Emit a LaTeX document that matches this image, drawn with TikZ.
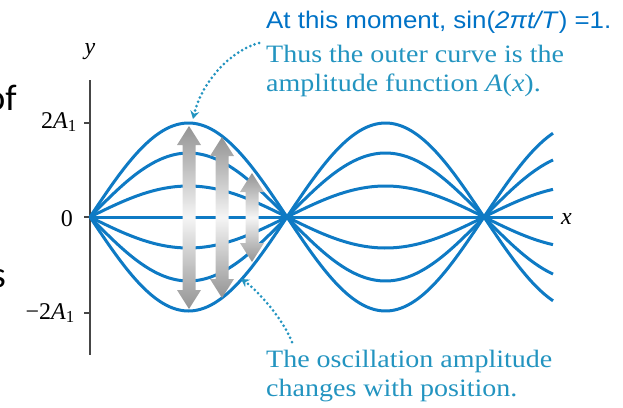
\documentclass[tikz,border=0pt]{standalone}
\usepackage{fontspec}
\setmainfont{Liberation Serif}
\setsansfont{Liberation Sans}
\newfontfamily\notefont[FakeStretch=1.12]{Liberation Serif}
\newfontfamily\headfont[FakeStretch=1.08]{Liberation Sans}
\newfontfamily\slidefont{Carlito}
\usetikzlibrary{arrows.meta, positioning}

\definecolor{waveblue}{RGB}{14,122,196}
\definecolor{noteteal}{RGB}{35,148,192}
\definecolor{headblue}{RGB}{0,114,198}
\definecolor{axisgray}{RGB}{70,70,70}

\begin{document}
\begin{tikzpicture}[x=1pt, y=-1pt,
    wave/.style={draw=waveblue, line width=3pt},
    axis/.style={draw=axisgray, line width=1.8pt},
    tick/.style={draw=axisgray, line width=1.3pt},
    lbl/.style={inner sep=0pt, font=\fontsize{24}{28}\selectfont},
    note/.style={inner sep=0pt, align=left, text=noteteal, font=\notefont\fontsize{25}{29}\selectfont},
    pointer/.style={-{Stealth[length=8pt, width=9pt]}, draw=noteteal, line width=3pt, line cap=round, dash pattern=on 0pt off 4.6pt},
    ampl/.style={top color=black!42, bottom color=black!42, middle color=black!4}
  ]
  \path[use as bounding box, clip] (0,0) rectangle (623,407);

  % axes and ticks
  \draw[axis] (90,80) -- (90,355);
  \foreach \ty in {123,217,313}
    \draw[tick] (84,\ty) -- (90,\ty);

  % standing wave snapshots
  \foreach \a in {94,64,31,0,-31,-64,-94}
    \draw[wave] plot[domain=90:553, samples=100, smooth] (\x, {217-\a*sin(0.91371*(\x-90))});

  % amplitude arrows
  \foreach \ax/\at/\ab in {189/126/309, 222/137/298, 252/173/262}
    \shade[ampl] (\ax,\at) -- ++(12,19) -- ++(-5.5,0) -- (\ax+6.5,\ab-19) -- ++(5.5,0) -- (\ax,\ab)
      -- ++(-12,-19) -- ++(5.5,0) -- (\ax-6.5,\at+19) -- ++(-5.5,0) -- cycle;

  % axis labels
  \node[lbl] (ylab) at (90,52) {\textit{y}};
  \node[lbl, anchor=west] (xlab) at (561,219) {\textit{x}};
  \node[lbl, anchor=east] (ytop) at (77,122) {2\textit{A}\textsubscript{1}};
  \node[lbl, anchor=east] (yzero) at (73,219) {0};
  \node[lbl, anchor=east] (ybot) at (75,313) {−2\textit{A}\textsubscript{1}};

  % notes
  \node[anchor=base west, inner sep=0pt, text=headblue, font=\headfont\fontsize{24}{28}\selectfont] (moment) at (266,28)
    {At this moment, sin(\textit{2πt/T}) =1.};
  \node[note, below right=17pt and 0pt of moment.base west] (outer) {Thus the outer curve is the\\amplitude function \textit{A}(\textit{x}).};
  \node[note, anchor=north west] (change) at (266,350) {The oscillation amplitude\\changes with position.};

  % slide fragments at the left edge
  \node[anchor=base east, inner sep=0pt, font=\slidefont\fontsize{37}{40}\selectfont] (frag1) at (17,110) {of};
  \node[anchor=base east, inner sep=0pt, font=\slidefont\fontsize{37}{40}\selectfont] (frag2) at (6,287) {s};

  \coordinate (peak) at (193,119);
  \coordinate (flank) at (241,279);
  \draw[pointer] ([xshift=-7pt, yshift=2pt]outer.north west) .. controls +(-30,8) and +(8,-35) .. (peak);
  \draw[pointer] ([xshift=26pt, yshift=8pt]change.north west) .. controls +(-10,-25) and +(15,10) .. (flank);
\end{tikzpicture}
\end{document}
